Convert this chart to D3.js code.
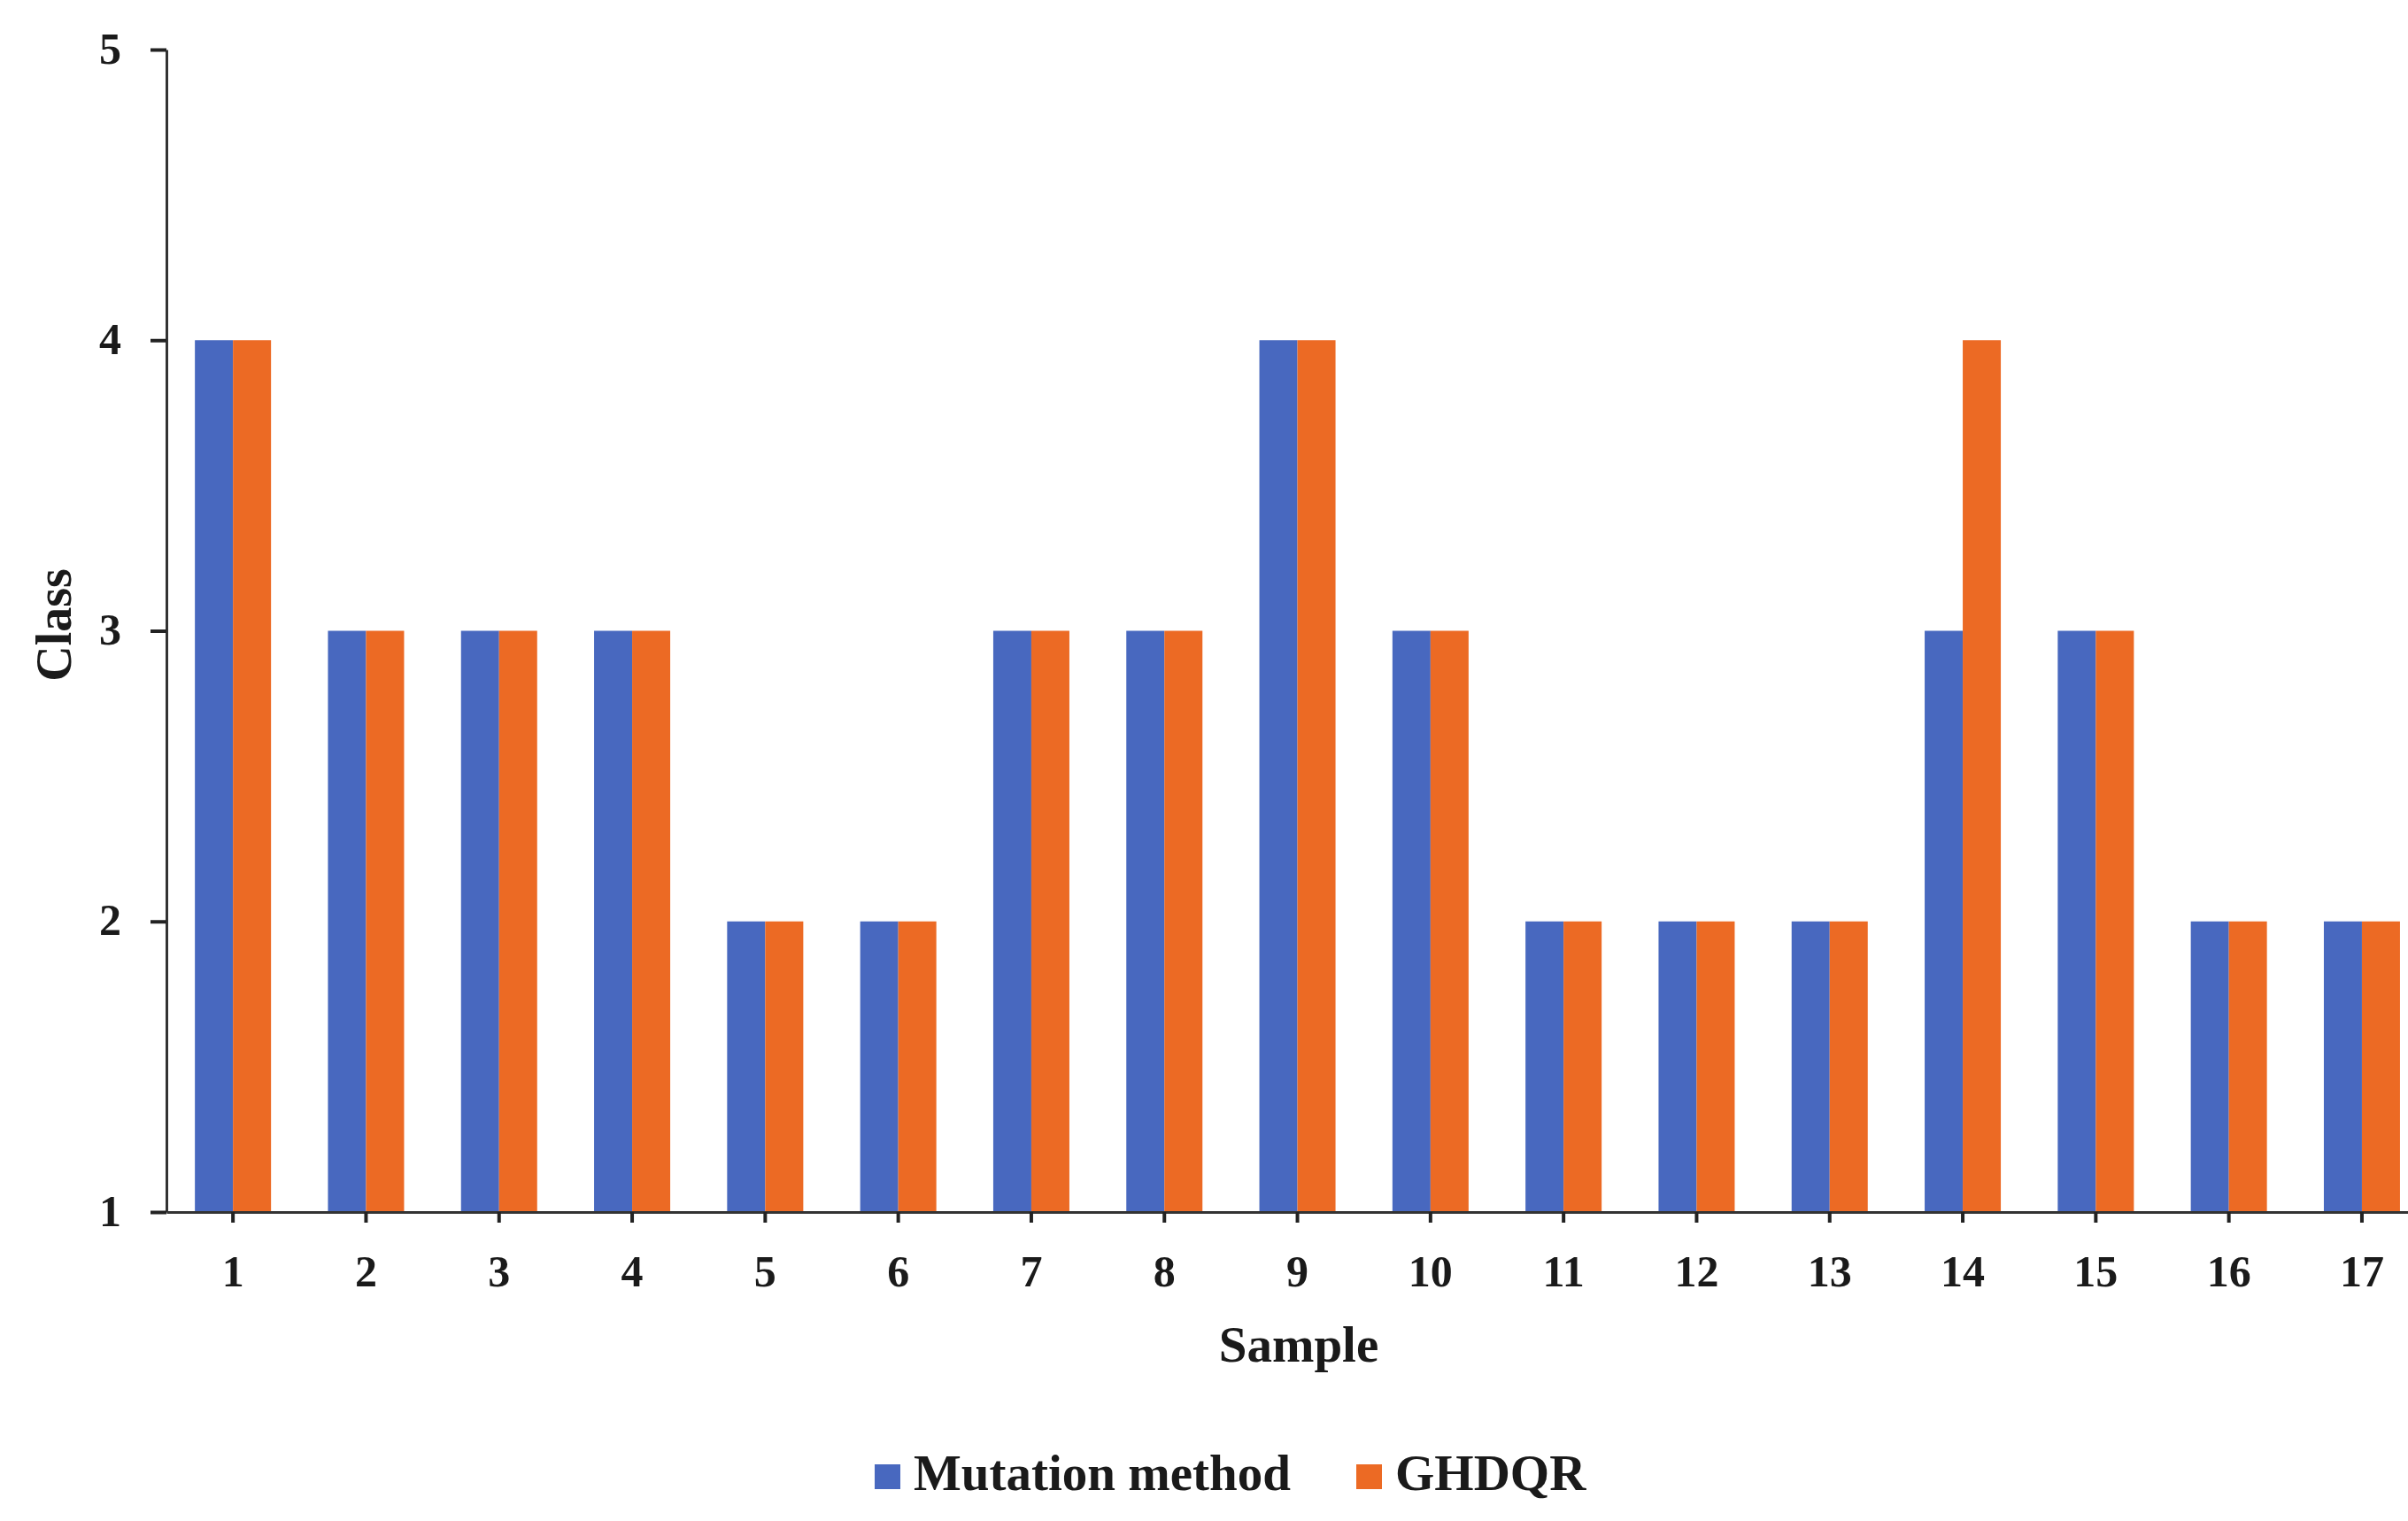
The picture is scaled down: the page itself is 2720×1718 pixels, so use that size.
<!DOCTYPE html>
<html>
<head>
<meta charset="utf-8">
<script src="https://cdn.jsdelivr.net/npm/d3@7"></script>
<style>
  body { margin: 0; background: #fff; }
  text { font-family: "Liberation Serif", "Times New Roman", serif; font-weight: bold; fill: #1a1a1a; }
</style>
</head>
<body>
<div id="chart"></div>
<script>
// data
const samples = d3.range(1, 18).map(String);
const seriesNames = ["Mutation method", "GHDQR"];
const mutationValues = [4, 3, 3, 3, 2, 2, 3, 3, 4, 3, 2, 2, 2, 3, 3, 2, 2];
const ghdqrValues    = [4, 3, 3, 3, 2, 2, 3, 3, 4, 3, 2, 2, 2, 4, 3, 2, 2];
const yTicks = [1, 2, 3, 4, 5];

const width = 2720;
const height = 1718;
const margin = {left: 188, top: 56, bottom: 349};
const colors = ["#4868BF", "#EC6A24"];

const svg = d3.select("#chart")
  .append("svg")
  .attr("width", width)
  .attr("height", height);

// y scale: 1..5
const yScale = d3.scaleLinear()
  .domain([1, 5])
  .range([height - margin.bottom, margin.top]);

// x scale, one band per sample (last band runs off the right edge)
const step = 150.3;
const xScale = d3.scaleBand()
  .domain(samples)
  .range([margin.left, margin.left + step * samples.length])
  .padding(0);

const xInner = d3.scaleBand()
  .domain(seriesNames)
  .range([step / 2 - 43, step / 2 + 43]);

// bars
const rows = samples.map((s, i) => ({sample: s, values: [mutationValues[i], ghdqrValues[i]]}));

const groups = svg.selectAll(".group")
  .data(rows)
  .enter()
  .append("g")
    .attr("class", "group")
    .attr("transform", d => `translate(${xScale(d.sample)},0)`);

groups.selectAll("rect")
  .data(d => d.values.map((v, k) => ({name: seriesNames[k], value: v, k: k})))
  .enter()
  .append("rect")
    .attr("x", d => xInner(d.name))
    .attr("y", d => yScale(d.value))
    .attr("width", xInner.bandwidth())
    .attr("height", d => yScale(1) - yScale(d.value))
    .style("fill", d => colors[d.k]);

// y axis
const yAxis = svg.append("g")
  .attr("transform", `translate(${margin.left},0)`)
  .call(d3.axisLeft(yScale).tickValues(yTicks).tickFormat(d3.format("d"))
          .tickSize(18).tickSizeOuter(0).tickPadding(33));
yAxis.select(".domain").attr("stroke", "#333").attr("stroke-width", 3);
yAxis.selectAll(".tick line").attr("stroke", "#222").attr("stroke-width", 4);
yAxis.selectAll("text")
  .attr("font-size", "50px")
  .attr("dy", "0.3em");

// x axis
const xAxis = svg.append("g")
  .attr("transform", `translate(0,${height - margin.bottom})`)
  .call(d3.axisBottom(xScale).tickSize(12).tickSizeOuter(0));
xAxis.select(".domain").attr("stroke", "#333").attr("stroke-width", 3);
xAxis.selectAll(".tick line").attr("stroke", "#222").attr("stroke-width", 4);
xAxis.selectAll("text")
  .attr("font-size", "50px")
  .attr("y", 84)
  .attr("dy", 0);

// axis titles
svg.append("text")
  .attr("x", 1467)
  .attr("y", 1538)
  .attr("text-anchor", "middle")
  .attr("font-size", "57px")
  .text("Sample");

svg.append("text")
  .attr("transform", "translate(80,706) rotate(-90)")
  .attr("text-anchor", "middle")
  .attr("font-size", "56px")
  .text("Class");

// legend
const legendX = [988, 1532];
const legend = svg.selectAll(".legend")
  .data(seriesNames)
  .enter()
  .append("g")
    .attr("class", "legend")
    .attr("transform", (d, i) => `translate(${legendX[i]},1654)`);

legend.append("rect")
  .attr("width", 29)
  .attr("height", 28)
  .style("fill", (d, i) => colors[i]);

legend.append("text")
  .attr("x", 44)
  .attr("y", 29)
  .attr("font-size", "57px")
  .text(d => d);
</script>
</body>
</html>
